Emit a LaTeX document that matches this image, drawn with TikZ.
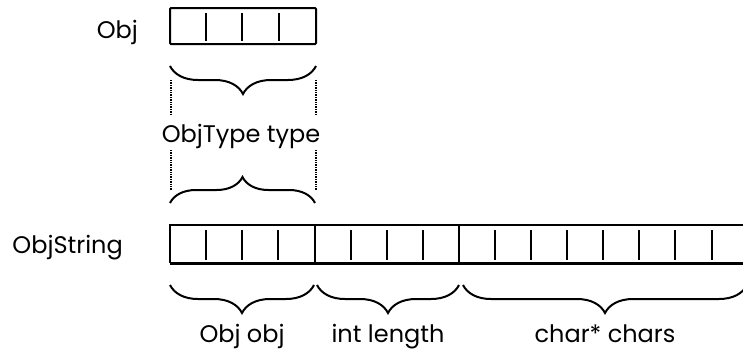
\documentclass[tikz,border=0pt]{standalone}
\usepackage{fontspec}
\setmainfont{Poppins}
\usetikzlibrary{decorations.pathreplacing}

\begin{document}
\begin{tikzpicture}[x=1pt, y=-1pt,
    brc/.style={decorate, decoration={brace, amplitude=28pt}, line width=2pt},
    lbl/.style={font=\fontsize{24}{28}\selectfont, inner sep=0pt},
    tick/.style={line width=2pt},
    guide/.style={densely dotted, line width=1.4pt}]
  \useasboundingbox (0,0) rectangle (743,351);

  % Obj box
  \draw[line width=2pt, rounded corners=1pt] (170,8) rectangle (316,44);
  \draw[line width=2.8pt] (170,44) -- (316,44);
  \foreach \i in {1,2,3}
    \draw[tick] (170+36.2*\i,13) -- (170+36.2*\i,41);
  \node[lbl, anchor=base east] (objname) at (138,38) {Obj};

  % Brace under Obj and the type field
  \draw[brc] (316,66) -- (170,66);
  \node[lbl, anchor=base] (typelbl) at (241,142) {ObjType type};
  \draw[guide] (171,80) -- (171,115);
  \draw[guide] (171,150) -- (171,190);
  \draw[guide] (316,80) -- (316,115);
  \draw[guide] (316,150) -- (316,190);
  \draw[brc, decoration={amplitude=26pt}] (170,203) -- (315,203);

  % ObjString bar
  \draw[line width=2pt] (743,225) -- (170,225) -- (170,263);
  \draw[line width=3pt] (170,263) -- (743,263);
  \foreach \x in {315,459}
    \draw[line width=2pt] (\x,225) -- (\x,263);
  \foreach \i in {1,2,3,5,6,7,9,10,11,12,13,14,15}
    \draw[tick] (170+36.1*\i,230) -- (170+36.1*\i,260);
  \node[lbl, anchor=base east] (strname) at (123,253) {ObjString};

  % Field braces
  \draw[brc] (314,285) -- (170,285)
    node[lbl, midway, anchor=base, yshift=-57pt] (objfield) {Obj obj};
  \draw[brc] (459,285) -- (317,285)
    node[lbl, midway, anchor=base, yshift=-57pt] (lenfield) {int length};
  \draw[brc] (747,285) -- (463,285)
    node[lbl, midway, anchor=base, yshift=-57pt] (charfield) {char* chars};
\end{tikzpicture}
\end{document}
